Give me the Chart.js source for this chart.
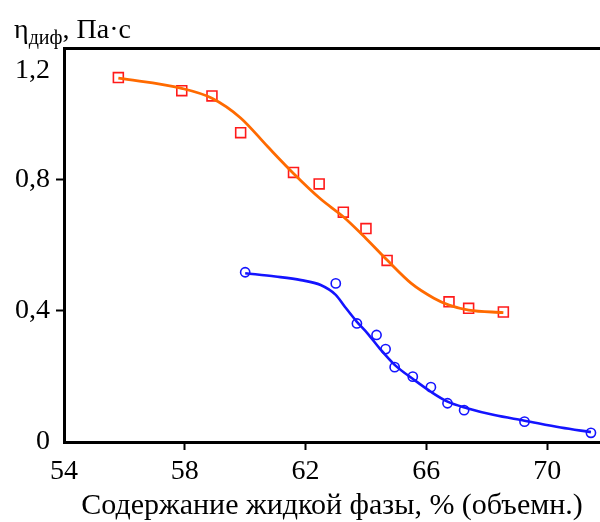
<!DOCTYPE html>
<html>
<head>
<meta charset="utf-8">
<script src="https://cdn.jsdelivr.net/npm/chart.js@4"></script>
<style>
  html, body { margin: 0; padding: 0; background: #fff; overflow: hidden; }
  #wrap { position: relative; width: 600px; height: 522px; }
  #ylab { position: absolute; left: 14px; top: 15px; font: 28px/28px "Liberation Serif", serif; color: #000; white-space: nowrap; }
  #ylab .sub { position: relative; top: 6px; font-size: 20px; }
</style>
</head>
<body>
<div id="wrap">
  <canvas id="chart" width="600" height="522"></canvas>
  <div id="ylab">η<span class="sub">диф</span>, Па·с</div>
</div>
<script>
// ── Data ──────────────────────────────────────────────────────────────────────
const xTicks = [54, 58, 62, 66, 70];
const yTicks = [0, 0.4, 0.8, 1.2];

// red squares and their smoothed orange curve
const sqX = [55.8, 57.9, 58.9, 59.85, 61.6, 62.45, 63.25, 64.0, 64.7, 66.75, 67.4, 68.55];
const sqY = [1.11, 1.07, 1.054, 0.942, 0.821, 0.786, 0.70, 0.65, 0.553, 0.427, 0.407, 0.396];
const orangeX = [55.8, 57.9, 58.9, 59.85, 60.75, 61.6, 62.5, 63.25, 64.0, 64.7, 65.5, 66.25, 66.75, 67.4, 68.55];
const orangeY = [1.108, 1.077, 1.047, 0.987, 0.899, 0.818, 0.740, 0.686, 0.620, 0.554, 0.483, 0.438, 0.417, 0.402, 0.394];

// blue circles and their smoothed curve
const circX = [60.0, 63.0, 63.7, 64.35, 64.65, 64.95, 65.55, 66.15, 66.7, 67.25, 69.25, 71.45];
const circY = [0.517, 0.483, 0.361, 0.326, 0.283, 0.228, 0.199, 0.167, 0.118, 0.097, 0.062, 0.028];
const blueX = [60.0, 61.0, 61.85, 62.5, 63.0, 63.3, 63.7, 64.05, 64.5, 64.95, 65.6, 66.15, 66.7, 67.35, 68.25, 69.25, 70.45, 71.45];
const blueY = [0.514, 0.504, 0.493, 0.478, 0.448, 0.412, 0.366, 0.331, 0.280, 0.235, 0.189, 0.153, 0.123, 0.103, 0.082, 0.065, 0.044, 0.030];

const X_MIN = 54, X_MAX = 71.75;
const FONT = "Liberation Serif";

// ── Helpers ───────────────────────────────────────────────────────────────────
const pts = (xs, ys) => xs.map((x, i) => ({ x, y: ys[i] }));
const hideAt = vals => c => (c.tick && vals.includes(c.tick.value)) ? "rgba(0,0,0,0)" : "#000";
const noPad = s => { s.paddingLeft = 0; s.paddingRight = 0; s.paddingTop = 0; s.paddingBottom = 0; };

// ── Chart ─────────────────────────────────────────────────────────────────────
new Chart(document.getElementById("chart"), {
  type: "scatter",
  data: {
    datasets: [
      { data: pts(orangeX, orangeY), showLine: true, borderColor: "#ff6a00", borderWidth: 2.8,
        pointRadius: 0, cubicInterpolationMode: "monotone" },
      { data: pts(blueX, blueY), showLine: true, borderColor: "#1414ff", borderWidth: 2.6,
        pointRadius: 0, cubicInterpolationMode: "monotone" },
      { data: pts(sqX, sqY), pointStyle: "rect", pointRadius: 7, borderColor: "#ff1a1a",
        borderWidth: 1.6, backgroundColor: "rgba(0,0,0,0)" },
      { data: pts(circX, circY), pointStyle: "circle", pointRadius: 4.6, borderColor: "#1414ff",
        borderWidth: 1.6, backgroundColor: "rgba(0,0,0,0)" },
    ],
  },
  options: {
    responsive: false,
    animation: false,
    layout: { padding: 0, autoPadding: false },   // plot runs right up to the canvas edge
    plugins: { legend: { display: false }, tooltip: { enabled: false } },
    scales: {
      x: {
        type: "linear", position: "bottom", min: X_MIN, max: X_MAX,
        afterBuildTicks: s => { s.ticks = xTicks.map(v => ({ value: v })); },
        afterFit: s => { s.height = 80; noPad(s); },
        grid: { drawOnChartArea: false, tickLength: 8, tickWidth: 2, tickColor: hideAt([54]) },
        border: { color: "#000", width: 3 },
        ticks: { color: "#000", padding: 5, font: { family: FONT, size: 28 } },
        title: {
          display: true, text: "Содержание жидкой фазы, % (объемн.)", color: "#000",
          font: { family: FONT, size: 30, lineHeight: 1.05 }, padding: { top: 0, bottom: 0 },
        },
      },
      x2: {
        type: "linear", position: "top", min: X_MIN, max: X_MAX,
        afterFit: s => { s.height = 48; noPad(s); },
        ticks: { display: false },
        grid: { display: false, drawTicks: false },
        border: { color: "#000", width: 3 },
      },
      y: {
        type: "linear", position: "left", min: 0, max: 1.2,
        afterBuildTicks: s => { s.ticks = yTicks.map(v => ({ value: v })); },
        afterFit: s => { s.width = 64; noPad(s); },
        grid: { drawOnChartArea: false, tickLength: 8, tickWidth: 2, tickColor: hideAt([0, 1.2]) },
        border: { color: "#000", width: 3 },
        ticks: {
          color: "#000", padding: 6,
          // the "1,2" label sits below the frame top in the original
          font: c => ({ family: FONT, size: 28, lineHeight: (c.tick && c.tick.value === 1.2) ? 1.6 : 1.2 }),
          callback: v => v === 1.2 ? ["", "1,2"] : String(v).replace(".", ","),
        },
      },
    },
  },
});
</script>
</body>
</html>
